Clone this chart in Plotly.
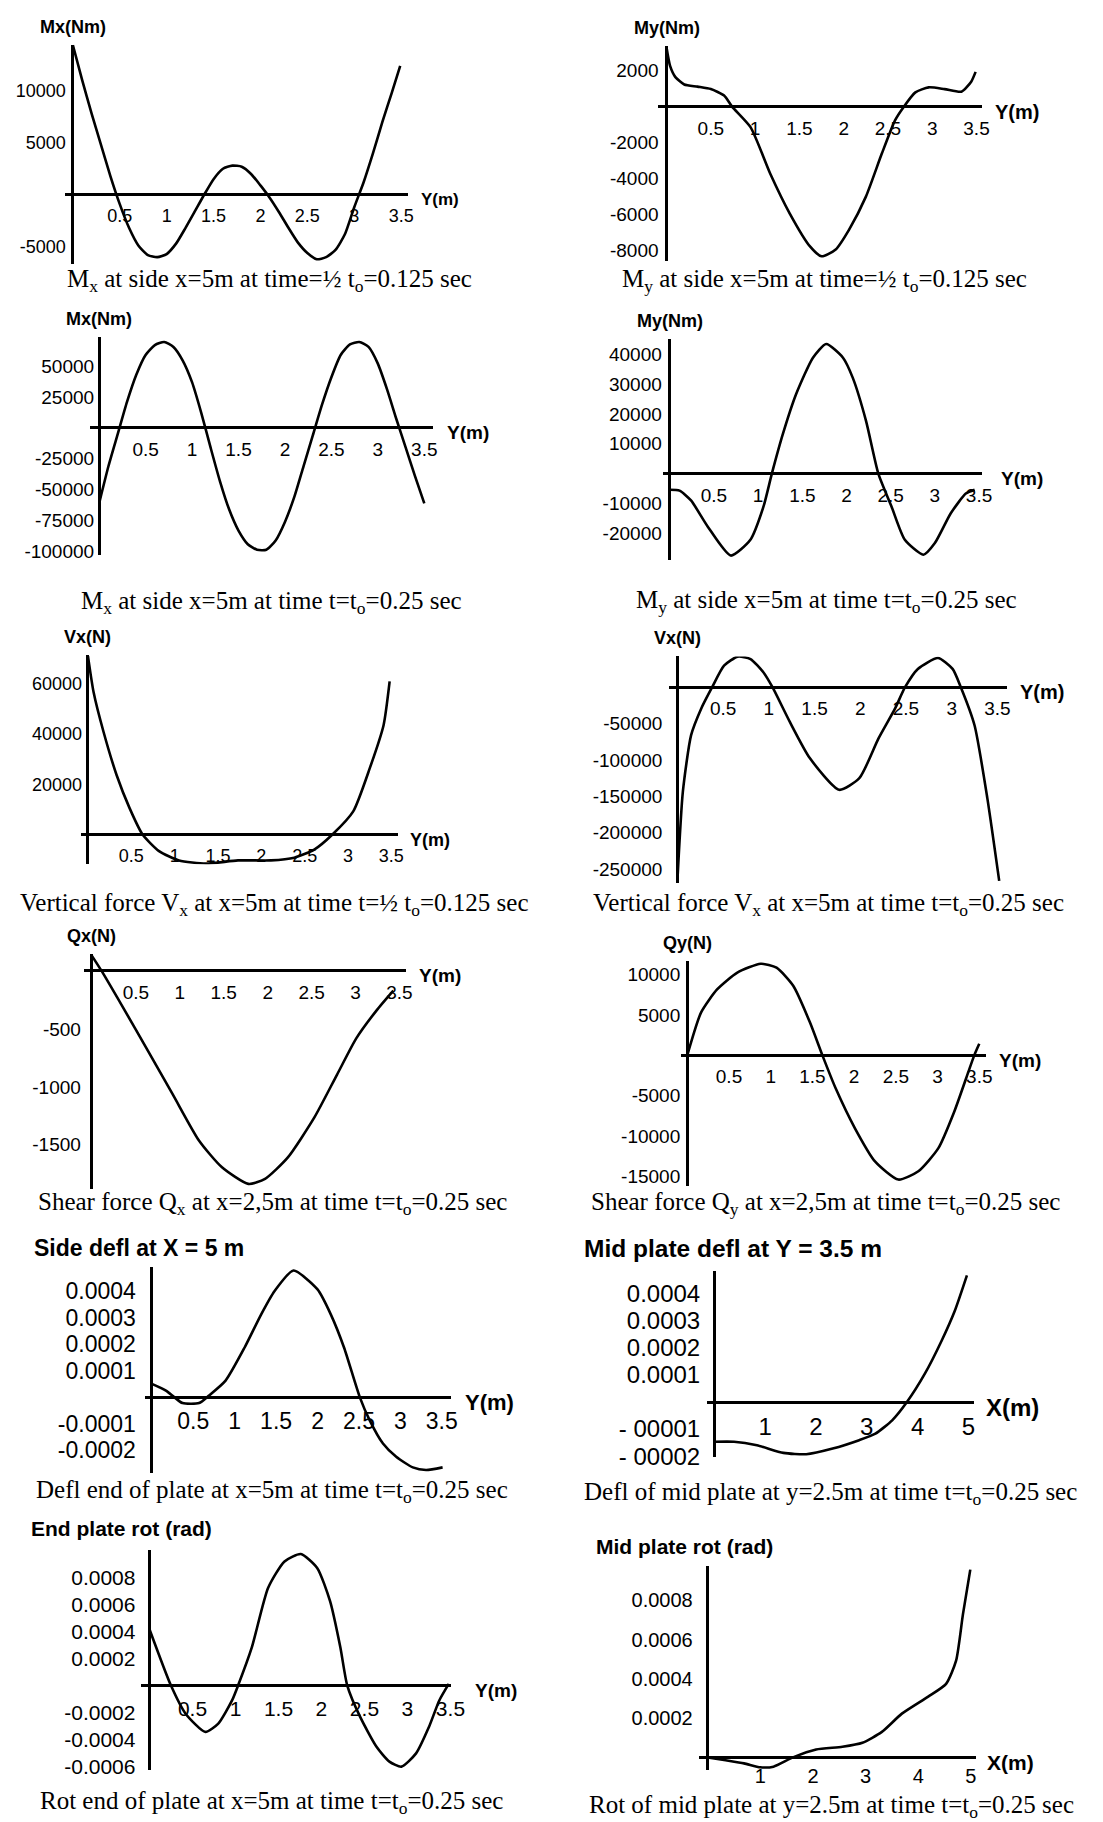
import plotly.graph_objects as go

W, H = 1103, 1822

# ---------------- data ----------------
# 1. Mx at side x=5m, t = 1/2 t0
pos_mx_half = [0, 0.1, 0.2, 0.3, 0.4, 0.5, 0.6, 0.7, 0.8, 0.9, 1.0, 1.1, 1.2, 1.3, 1.4, 1.5, 1.6, 1.7,
               1.8, 1.9, 2.0, 2.1, 2.2, 2.3, 2.4, 2.5, 2.6, 2.7, 2.8, 2.9, 3.0, 3.1, 3.2, 3.3, 3.4, 3.49]
val_mx_half = [14400, 11000, 7800, 4800, 1800, -900, -3200, -4900, -5800, -6000, -5700, -4700, -3200,
               -1600, 0, 1500, 2500, 2800, 2700, 2000, 900, -300, -1700, -3200, -4600, -5600, -6200,
               -6000, -5300, -3800, -1200, 1200, 4000, 7000, 9800, 12400]

# 2. My at side x=5m, t = 1/2 t0
pos_my_half = [0, 0.04, 0.1, 0.2, 0.35, 0.5, 0.65, 0.74, 0.95, 1.17, 1.39, 1.62, 1.75, 1.91, 2.06,
               2.25, 2.43, 2.58, 2.68, 2.81, 2.96, 3.14, 3.33, 3.44, 3.49]
val_my_half = [3280, 2260, 1640, 1230, 1110, 975, 615, 0, -1150, -3710, -5920, -7760, -8310, -7930,
               -6840, -5010, -2620, -760, 0, 790, 1070, 975, 830, 1385, 1930]

# 3. Mx at side x=5m, t = t0
pos_mx_full = [0, 0.1, 0.2, 0.3, 0.4, 0.5, 0.6, 0.7, 0.8, 0.9, 1.0, 1.1, 1.2, 1.3, 1.4, 1.5, 1.6, 1.7,
               1.8, 1.9, 2.0, 2.1, 2.2, 2.3, 2.4, 2.5, 2.6, 2.7, 2.8, 2.9, 3.0, 3.1, 3.2, 3.3, 3.4, 3.5]
val_mx_full = [-61000, -31000, -5000, 21000, 43000, 59000, 67000, 69500, 65500, 54500, 37000, 12000,
               -16000, -43000, -66000, -83000, -94000, -98500, -98500, -91000, -76000, -56000, -31000,
               -6000, 19000, 41000, 59000, 67500, 69500, 65500, 52000, 31000, 7000, -16000, -39000, -61000]

# 4. My at side x=5m, t = t0
pos_my_full = [0, 0.11, 0.24, 0.43, 0.69, 0.91, 1.06, 1.155, 1.28, 1.43, 1.62, 1.77, 1.96, 2.07, 2.22,
               2.36, 2.51, 2.66, 2.87, 3.0, 3.18, 3.35, 3.45]
val_my_full = [-5400, -5700, -9000, -17800, -27500, -22300, -11100, 0, 13300, 26700, 38900, 43500,
               38900, 32200, 17800, 0, -11100, -22200, -27200, -23300, -13300, -6700, -5400]

# 5. Vx at x=5m, t = 1/2 t0
pos_vx_half = [0, 0.065, 0.18, 0.33, 0.48, 0.63, 0.82, 1.05, 1.36, 1.73, 2.11, 2.38, 2.61, 2.82, 3.06,
               3.25, 3.41, 3.48]
val_vx_half = [71000, 56600, 40800, 23700, 10500, 0, -6600, -10300, -11600, -10300, -10300, -9200,
               -6000, 0, 9200, 26300, 43500, 60900]

# 6. Vx at x=5m, t = t0
pos_vx_full = [0, 0.06, 0.15, 0.26, 0.38, 0.51, 0.66, 0.80, 0.94, 1.04, 1.23, 1.45, 1.77, 1.99, 2.20,
               2.38, 2.49, 2.63, 2.85, 3.01, 3.10, 3.25, 3.39, 3.52]
val_vx_full = [-266000, -143200, -65900, -29500, 0, 29600, 42000, 38700, 20500, 0, -47700, -97700,
               -140900, -125000, -70400, -29500, 0, 25100, 40100, 25100, 0, -52300, -152300, -266000]

# 7. Qx at x=2.5m, t = t0
pos_qx = [0, 0.11, 0.36, 0.62, 0.92, 1.22, 1.48, 1.78, 1.97, 2.23, 2.53, 2.79, 3.01, 3.24, 3.43]
val_qx = [130, 0, -323, -666, -1065, -1465, -1694, -1837, -1794, -1609, -1266, -894, -580, -340, -170]

# 8. Qy at x=2.5m, t = t0
pos_qy = [0, 0.166, 0.36, 0.60, 0.88, 1.07, 1.27, 1.47, 1.62, 1.78, 2.01, 2.25, 2.53, 2.77, 3.01,
          3.20, 3.44, 3.50]
val_qy = [0, 5320, 8190, 10250, 11350, 10850, 8610, 4090, 0, -4110, -9030, -13130, -15380, -14350,
          -11490, -6980, 0, 1430]

# 9. Side deflection at X = 5 m
pos_defl_end = [0, 0.17, 0.27, 0.37, 0.57, 0.69, 0.89, 1.12, 1.32, 1.48, 1.71, 2.0, 2.16, 2.32, 2.51,
                2.63, 2.79, 2.95, 3.15, 3.31, 3.51]
val_defl_end = [0.0000498, 0.0000247, 0, -0.0000225, -0.0000225, 0.000006, 0.0000622, 0.000187,
                0.000312, 0.000399, 0.000477, 0.000406, 0.000312, 0.000187, 0, -0.0000876, -0.000175,
                -0.000225, -0.000265, -0.000275, -0.000265]

# 10. Mid plate deflection
pos_defl_mid = [0, 0.39, 0.84, 1.36, 1.81, 2.33, 2.85, 3.17, 3.50, 3.79, 4.14, 4.47, 4.73, 4.97]
val_defl_mid = [-0.000147, -0.000147, -0.00016, -0.000188, -0.000193, -0.000172, -0.000141, -0.000117,
                -0.0000676, 0, 0.000104, 0.000226, 0.000337, 0.000469]

# 11. End plate rotation
pos_rot_end = [0, 0.25, 0.42, 0.65, 0.80, 0.96, 1.03, 1.19, 1.38, 1.57, 1.76, 1.95, 2.10, 2.22, 2.30,
               2.45, 2.64, 2.79, 2.93, 3.10, 3.25, 3.37, 3.48]
val_rot_end = [0.000417, 0, -0.000208, -0.000343, -0.000282, -0.00011, 0, 0.000282, 0.000724, 0.000919,
               0.000974, 0.000871, 0.000625, 0.000282, 0, -0.000232, -0.000453, -0.000563, -0.0006,
               -0.000502, -0.000306, -0.00011, 0.0000125]

# 12. Mid plate rotation
pos_rot_mid = [0, 0.31, 0.69, 1.0, 1.25, 1.62, 2.06, 2.56, 2.94, 3.31, 3.69, 4.19, 4.53, 4.72, 4.85, 4.99]
val_rot_mid = [0, -0.0000137, -0.0000304, -0.0000506, -0.0000471, 0, 0.0000405, 0.0000542, 0.0000744,
               0.00013, 0.000223, 0.00031, 0.000375, 0.000493, 0.000729, 0.000957]

# ---------------- tick labels ----------------
ticks_y35 = [0.5, 1, 1.5, 2, 2.5, 3, 3.5]
text_y35 = ["0.5", "1", "1.5", "2", "2.5", "3", "3.5"]
ticks_x5 = [1, 2, 3, 4, 5]
text_x5 = ["1", "2", "3", "4", "5"]

yt1 = [10000, 5000, -5000]
yt2 = [2000, -2000, -4000, -6000, -8000]
yt3 = [50000, 25000, -25000, -50000, -75000, -100000]
yt4 = [40000, 30000, 20000, 10000, -10000, -20000]
yt5 = [60000, 40000, 20000]
yt6 = [-50000, -100000, -150000, -200000, -250000]
yt7 = [-500, -1000, -1500]
yt8 = [10000, 5000, -5000, -10000, -15000]
yt9 = [0.0004, 0.0003, 0.0002, 0.0001, -0.0001, -0.0002]
yt9_text = ["0.0004", "0.0003", "0.0002", "0.0001", "-0.0001", "-0.0002"]
yt10 = [0.0004, 0.0003, 0.0002, 0.0001, -0.0001, -0.0002]
yt10_text = ["0.0004", "0.0003", "0.0002", "0.0001", "- 00001", "- 00002"]
yt11 = [0.0008, 0.0006, 0.0004, 0.0002, -0.0002, -0.0004, -0.0006]
yt11_text = ["0.0008", "0.0006", "0.0004", "0.0002", "-0.0002", "-0.0004", "-0.0006"]
yt12 = [0.0008, 0.0006, 0.0004, 0.0002]
yt12_text = ["0.0008", "0.0006", "0.0004", "0.0002"]

def itxt(v):
    return [str(t) for t in v]

panels = [
    dict(x=pos_mx_half, y=val_mx_half, xt=ticks_y35, xtt=text_y35, yt=yt1, ytt=itxt(yt1),
         ylab="Mx(Nm)", xlab="Y(m)",
         cap="M<sub>x</sub> at side x=5m at time=½ t<sub>o</sub>=0.125 sec"),
    dict(x=pos_my_half, y=val_my_half, xt=ticks_y35, xtt=text_y35, yt=yt2, ytt=itxt(yt2),
         ylab="My(Nm)", xlab="Y(m)",
         cap="M<sub>y</sub> at side x=5m at time=½ t<sub>o</sub>=0.125 sec"),
    dict(x=pos_mx_full, y=val_mx_full, xt=ticks_y35, xtt=text_y35, yt=yt3, ytt=itxt(yt3),
         ylab="Mx(Nm)", xlab="Y(m)",
         cap="M<sub>x</sub> at side x=5m at time t=t<sub>o</sub>=0.25 sec"),
    dict(x=pos_my_full, y=val_my_full, xt=ticks_y35, xtt=text_y35, yt=yt4, ytt=itxt(yt4),
         ylab="My(Nm)", xlab="Y(m)",
         cap="M<sub>y</sub> at side x=5m at time t=t<sub>o</sub>=0.25 sec"),
    dict(x=pos_vx_half, y=val_vx_half, xt=ticks_y35, xtt=text_y35, yt=yt5, ytt=itxt(yt5),
         ylab="Vx(N)", xlab="Y(m)",
         cap="Vertical force V<sub>x</sub> at x=5m at time t=½ t<sub>o</sub>=0.125 sec"),
    dict(x=pos_vx_full, y=val_vx_full, xt=ticks_y35, xtt=text_y35, yt=yt6, ytt=itxt(yt6),
         ylab="Vx(N)", xlab="Y(m)",
         cap="Vertical force V<sub>x</sub> at x=5m at time t=t<sub>o</sub>=0.25 sec"),
    dict(x=pos_qx, y=val_qx, xt=ticks_y35, xtt=text_y35, yt=yt7, ytt=itxt(yt7),
         ylab="Qx(N)", xlab="Y(m)",
         cap="Shear force Q<sub>x</sub> at x=2,5m at time t=t<sub>o</sub>=0.25 sec"),
    dict(x=pos_qy, y=val_qy, xt=ticks_y35, xtt=text_y35, yt=yt8, ytt=itxt(yt8),
         ylab="Qy(N)", xlab="Y(m)",
         cap="Shear force Q<sub>y</sub> at x=2,5m at time t=t<sub>o</sub>=0.25 sec"),
    dict(x=pos_defl_end, y=val_defl_end, xt=ticks_y35, xtt=text_y35, yt=yt9, ytt=yt9_text,
         ylab="Side defl at X = 5 m", xlab="Y(m)",
         cap="Defl end of plate at x=5m at time t=t<sub>o</sub>=0.25 sec"),
    dict(x=pos_defl_mid, y=val_defl_mid, xt=ticks_x5, xtt=text_x5, yt=yt10, ytt=yt10_text,
         ylab="Mid plate defl at Y = 3.5 m", xlab="X(m)",
         cap="Defl of mid plate at y=2.5m at time t=t<sub>o</sub>=0.25 sec"),
    dict(x=pos_rot_end, y=val_rot_end, xt=ticks_y35, xtt=text_y35, yt=yt11, ytt=yt11_text,
         ylab="End plate rot (rad)", xlab="Y(m)",
         cap="Rot end of plate at x=5m at time t=t<sub>o</sub>=0.25 sec"),
    dict(x=pos_rot_mid, y=val_rot_mid, xt=ticks_x5, xtt=text_x5, yt=yt12, ytt=yt12_text,
         ylab="Mid plate rot (rad)", xlab="X(m)",
         cap="Rot of mid plate at y=2.5m at time t=t<sub>o</sub>=0.25 sec"),
]

# ---------------- geometry (pixels in the 1103x1822 page) ----------------
# box = (left, right, top, bottom) of axis lines; org = pixel of (0,0); scale = px per unit
geoms = [
    dict(box=(58, 405, 37, 258), org=(65.7, 188), scale=(95, 0.01047), tf=18, ygap=7, xgap=8, lab_dx=11, lf=17,
         cap_xy=(265, 274, "center"), title=None),
    dict(box=(658.7, 987, 38, 255), org=(667, 99.3), scale=(89.7, 0.01813), tf=19, ygap=8, xgap=8, lab_dx=11, lf=20,
         cap_xy=(827, 274, "center"), title=None),
    dict(box=(83.3, 430, 331, 551), org=(92.3, 422.7), scale=(94.1, 0.001245), tf=19, ygap=5, xgap=8, lab_dx=12,
         lf=19, cap_xy=(267, 598, "center"), title=None),
    dict(box=(663.7, 987, 333.3, 556), org=(670.3, 468.7), scale=(89.5, 0.003), tf=19, ygap=8, xgap=8, lab_dx=17,
         lf=19, cap_xy=(829, 597, "center"), title=None),
    dict(box=(74, 395, 651.3, 862), org=(81, 832), scale=(87.8, 0.00253), tf=18, ygap=6, xgap=8, lab_dx=10, lf=18,
         cap_xy=(270, 902, "center"), title=None),
    dict(box=(669.3, 1012, 652.7, 880.3), org=(678, 683.7), scale=(92.6, 0.000733), tf=19, ygap=15, xgap=8,
         lab_dx=11, lf=20, cap_xy=(831, 902, "center"), title=None),
    dict(box=(77.3, 403.3, 952.7, 1189.3), org=(85, 969.3), scale=(89, 0.1167), tf=19, ygap=11, xgap=8, lab_dx=11,
         lf=19, cap_xy=(268, 1203, "center"), title=None),
    dict(box=(682, 990.3, 959.3, 1186), org=(688, 1054.3), scale=(84.5, 0.00813), tf=19, ygap=7, xgap=8,
         lab_dx=11, lf=19, cap_xy=(828, 1203, "center"), title=None),
    dict(box=(138.3, 448.3, 1267.7, 1475), org=(145.7, 1398.3), scale=(83.9, 267000), tf=23, ygap=16, xgap=8,
         lab_dx=12, lf=22, cap_xy=(267, 1493, "center"), title=(24, 1263, 23)),
    dict(box=(708, 978.7, 1271, 1459), org=(715.3, 1403.3), scale=(51.5, 272000), tf=24, ygap=14, xgap=8,
         lab_dx=10, lf=24, cap_xy=(581, 1495, "left"), title=(581, 1264, 24.5)),
    dict(box=(134.3, 448.3, 1552, 1773.7), org=(143.3, 1688.7), scale=(87.1, 136000), tf=21, ygap=14, xgap=8,
         lab_dx=22, lf=19, cap_xy=(267, 1806, "center"), title=(21, 1544, 21)),
    dict(box=(700.3, 980.3, 1568.7, 1773.7), org=(708.7, 1761), scale=(53.3, 197500), tf=20, ygap=15, xgap=5,
         lab_dx=9, lf=21, cap_xy=(586, 1810, "left"), title=(594, 1562, 21)),
]

SANS = "Liberation Sans, Arial, sans-serif"
SERIF = "Liberation Serif, Times New Roman, serif"

fig = go.Figure()
annotations = []
for i, (d, g) in enumerate(zip(panels, geoms), start=1):
    xn = "x" if i == 1 else f"x{i}"
    yn = "y" if i == 1 else f"y{i}"
    key = "" if i == 1 else str(i)
    L, R, T, B = g["box"]
    x0, y0 = g["org"]
    xs, ys = g["scale"]

    fig.add_trace(go.Scatter(
        x=d["x"], y=d["y"], mode="lines", xaxis=xn, yaxis=yn,
        line=dict(color="black", width=2.6, shape="spline", smoothing=0.6),
        showlegend=False, hoverinfo="skip"))

    fig.layout["xaxis" + key] = dict(
        domain=[L / W, R / W], range=[(L - x0) / xs, (R - x0) / xs],
        anchor="free", position=1 - y0 / H,
        showgrid=False, showline=False, zeroline=True, zerolinecolor="black", zerolinewidth=2.6,
        ticks="", tickmode="array", tickvals=d["xt"], ticktext=d["xtt"],
        tickfont=dict(family=SANS, size=g["tf"], color="black"),
        ticklabelstandoff=g["xgap"], ticklabeloverflow="allow", fixedrange=True)
    fig.layout["yaxis" + key] = dict(
        domain=[1 - B / H, 1 - T / H], range=[(y0 - B) / ys, (y0 - T) / ys],
        anchor="free", position=x0 / W,
        showgrid=False, showline=False, zeroline=True, zerolinecolor="black", zerolinewidth=2.6,
        ticks="", tickmode="array", tickvals=d["yt"], ticktext=d["ytt"],
        tickfont=dict(family=SANS, size=g["tf"], color="black"),
        ticklabelstandoff=g["ygap"], ticklabeloverflow="allow", fixedrange=True)

    # vertical-axis title
    if g["title"] is None:
        annotations.append(dict(
            text=f"<b>{d['ylab']}</b>", xref=xn, x=0, yref=f"{yn} domain", y=1,
            xanchor="center", yanchor="bottom", yshift=6, showarrow=False,
            font=dict(family=SANS, size=18, color="black")))
    else:
        tx, ty, tfs = g["title"]
        annotations.append(dict(
            text=f"<b>{d['ylab']}</b>", xref="paper", x=tx / W, yref="paper", y=1 - ty / H,
            xanchor="left", yanchor="bottom", showarrow=False,
            font=dict(family=SANS, size=tfs, color="black")))

    # horizontal-axis label at the end of the axis
    annotations.append(dict(
        text=f"<b>{d['xlab']}</b>", xref=f"{xn} domain", x=1, yref=yn, y=0,
        xanchor="left", yanchor="middle", xshift=g["lab_dx"], yshift=-5, showarrow=False,
        font=dict(family=SANS, size=g["lf"], color="black")))

    # caption
    cx, cy, anc = g["cap_xy"]
    annotations.append(dict(
        text=d["cap"], xref="paper", x=cx / W, yref="paper", y=1 - cy / H,
        xanchor=anc, yanchor="middle", showarrow=False,
        font=dict(family=SERIF, size=25, color="black")))

fig.update_layout(
    width=W, height=H, margin=dict(l=0, r=0, t=0, b=0),
    paper_bgcolor="white", plot_bgcolor="white",
    font=dict(family=SANS, color="black"),
    annotations=annotations, showlegend=False)

fig.write_html("out.html")
